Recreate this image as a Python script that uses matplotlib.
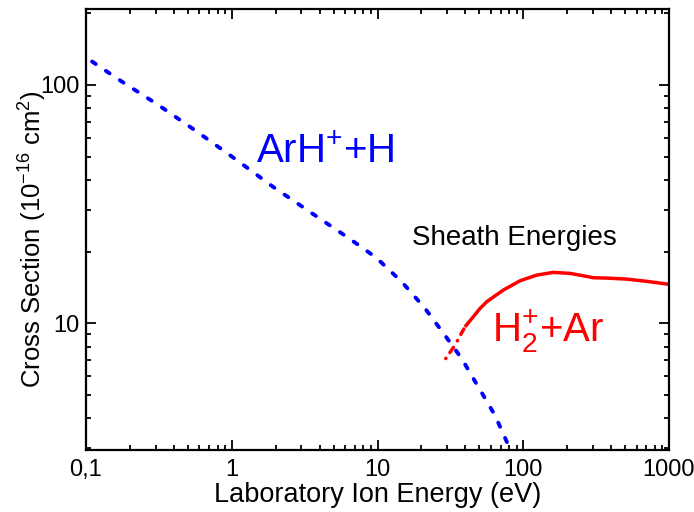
import matplotlib
matplotlib.use("Agg")
import matplotlib.pyplot as plt
from matplotlib.ticker import LogLocator, FixedLocator, FixedFormatter, NullFormatter

plt.rcParams['font.family'] = ['Liberation Sans', 'DejaVu Sans']
plt.rcParams['mathtext.fontset'] = 'custom'
plt.rcParams['mathtext.rm'] = 'Liberation Sans'
plt.rcParams['mathtext.it'] = 'Liberation Sans:italic'
plt.rcParams['mathtext.bf'] = 'Liberation Sans:bold'
plt.rcParams['mathtext.default'] = 'regular'

# ArH+ + H (blue dashed)
arh_energy = [0.110, 0.171, 0.313, 0.575, 1.053, 1.92, 3.54, 6.48, 9.77, 14.66, 21.2, 29.0, 37.8, 49.2, 64.0, 81.1]
arh_sigma = [125.3, 104.5, 82.4, 63.8, 49.0, 37.4, 29.0, 22.6, 18.9, 14.96, 11.56, 8.93, 7.13, 5.42, 4.12, 2.98]

# H2+ + Ar (red) : low-energy dashed part and solid part
h2_low_energy = [29.4, 34.0, 39.8]
h2_low_sigma = [7.13, 8.11, 9.68]
h2_energy = [39.8, 45.0, 50.5, 56.1, 72.9, 95.0, 123.7, 160.8, 209.4, 258.2, 302, 373.7, 512.7, 703, 1000]
h2_sigma = [9.68, 10.6, 11.56, 12.33, 13.8, 15.1, 15.95, 16.38, 16.22, 15.85, 15.55, 15.5, 15.35, 15.02, 14.6]

x_ticks = [0.1, 1, 10, 100, 1000]
x_ticklabels = ['0,1', '1', '10', '100', '1000']
y_ticks = [10, 100]
y_ticklabels = ['10', '100']

fig = plt.figure(figsize=(6.94, 5.12), dpi=100)
ax = fig.add_axes([86/694, (512-450)/512, (669-86)/694, (450-9)/512])

ax.plot(arh_energy, arh_sigma, color='#0000FF', lw=2.8, dashes=(1.15, 3.15),
        dash_capstyle='round', solid_capstyle='round')
ax.plot(h2_low_energy, h2_low_sigma, color='#FF0000', lw=2.5, dashes=(0.1, 2.0, 1.8, 2.2),
        dash_capstyle='round')
ax.plot(h2_energy, h2_sigma, color='#FF0000', lw=2.5, solid_capstyle='butt', solid_joinstyle='round')

ax.set_xscale('log')
ax.set_yscale('log')
ax.set_xlim(0.1, 1000)
ax.set_ylim(2.95, 208)

ax.xaxis.set_major_locator(FixedLocator(x_ticks))
ax.xaxis.set_major_formatter(FixedFormatter(x_ticklabels))
ax.xaxis.set_minor_locator(LogLocator(base=10, subs=range(2, 10)))
ax.xaxis.set_minor_formatter(NullFormatter())
ax.yaxis.set_major_locator(FixedLocator(y_ticks))
ax.yaxis.set_major_formatter(FixedFormatter(y_ticklabels))
ax.yaxis.set_minor_locator(LogLocator(base=10, subs=range(2, 10)))
ax.yaxis.set_minor_formatter(NullFormatter())

ax.tick_params(which='both', direction='in', top=True, right=True, width=1.3, labelsize=17, colors='black')
ax.tick_params(which='major', length=7)
ax.tick_params(which='minor', length=3.5)
ax.tick_params(axis='x', which='major', pad=6.5)
ax.tick_params(axis='y', which='major', pad=4.5)
for s in ax.spines.values():
    s.set_linewidth(1.6)

ax.set_xlabel('Laboratory Ion Energy (eV)', fontsize=19.5, labelpad=0.5)
ax.set_ylabel(r'Cross Section (10$^{-16}$ cm$^{2}$)', fontsize=18.5)
ax.yaxis.set_label_coords(-0.063, 0.478)

ax.text(1.467, 47, r'ArH$^{+}$+H', color='#0000FF', fontsize=29, ha='left', va='baseline')
ax.text(17.3, 21.3, 'Sheath Energies', color='black', fontsize=20, ha='left', va='baseline')
ax.text(60.8, 8.37, r'H$_2^{+}$+Ar', color='#FF0000', fontsize=29, ha='left', va='baseline')

fig.savefig('out.png', dpi=100)
